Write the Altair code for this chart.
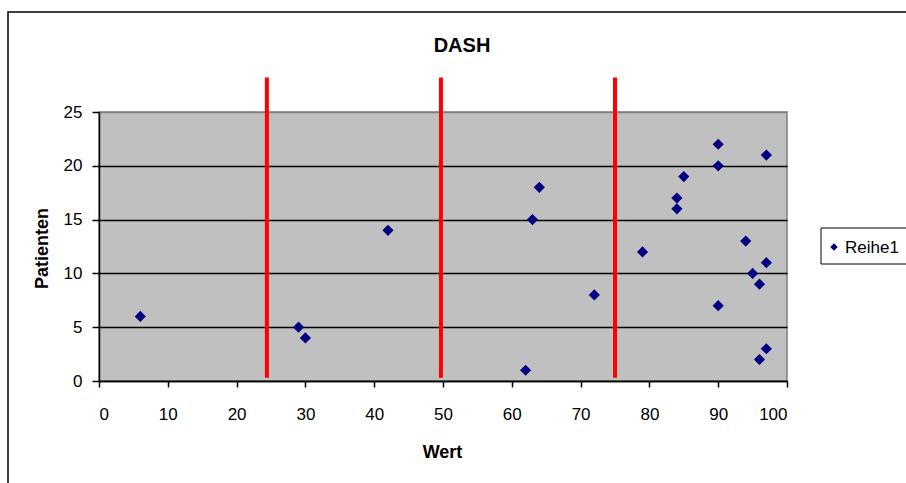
import altair as alt
import pandas as pd

# Data
wert = [6, 29, 30, 42, 62, 63, 64, 72, 79, 84, 84, 85, 90, 90, 90, 94, 95, 96, 96, 97, 97, 97]
patienten = [6, 5, 4, 14, 1, 15, 18, 8, 12, 17, 16, 19, 22, 20, 7, 13, 10, 9, 2, 21, 11, 3]

cut_x = [24.4, 49.7, 75.0]
cut_y_start = [0.3, 0.3, 0.3]
cut_y_end = [28.2, 28.2, 28.2]

x_ticks = [0, 10, 20, 30, 40, 50, 60, 70, 80, 90, 100]
y_ticks = [0, 5, 10, 15, 20, 25]

title_text = "DASH"
x_title = "Wert"
y_title = "Patienten"
series_name = "Reihe1"

FONT = "Liberation Sans"
W, H = 688, 269
LEFT, TOP = 99, 112

pts = pd.DataFrame({"Wert": wert, "Patienten": patienten})
cuts = pd.DataFrame({"Wert": cut_x, "Patienten": cut_y_start, "P2": cut_y_end})

x_axis = alt.Axis(
    values=x_ticks, title=x_title, grid=False,
    domainColor="black", domainWidth=1.5, tickColor="black", tickWidth=1.5,
    tickSize=6, labelPadding=19, labelFont=FONT, labelFontSize=17, labelColor="black",
    titleFont=FONT, titleFontSize=18, titleFontWeight="bold", titleColor="black",
    titleX=343, titleY=71, titleBaseline="middle", titleAlign="center",
)
y_axis = alt.Axis(
    values=y_ticks, title=y_title, grid=True,
    gridColor={"condition": {"test": "datum.value >= 25", "value": "#808080"}, "value": "black"},
    gridWidth=1.3,
    domainColor="black", domainWidth=1.5, tickColor="black", tickWidth=1.5,
    tickSize=7, labelPadding=10, labelFont=FONT, labelFontSize=17, labelColor="black",
    titleFont=FONT, titleFontSize=18, titleFontWeight="bold", titleColor="black",
    titleX=-57, titleY=136, titleBaseline="middle", titleAlign="center", titleAngle=-90,
)

x_scale = alt.Scale(domain=[0, 100], nice=False, zero=False)
y_scale = alt.Scale(domain=[0, 25], nice=False, zero=False)

points = alt.Chart(pts).mark_point(
    shape="diamond", filled=True, size=125, color="#000080", opacity=1
).encode(
    x=alt.X("Wert:Q", scale=x_scale, axis=x_axis),
    y=alt.Y("Patienten:Q", scale=y_scale, axis=y_axis),
)

redlines = alt.Chart(cuts).mark_rule(color="#ff0000", strokeWidth=4, clip=False).encode(
    x=alt.X("Wert:Q", scale=x_scale, axis=x_axis),
    y=alt.Y("Patienten:Q", scale=y_scale, axis=y_axis),
    y2="P2:Q",
)

one = alt.Data(values=[{"a": 1}])

border = alt.Chart(one).mark_rect(
    filled=False, stroke="black", strokeWidth=1.5, fillOpacity=0
).encode(
    x=alt.value(8 - LEFT), x2=alt.value(906 + 40 - LEFT),
    y=alt.value(12 - TOP), y2=alt.value(483 + 40 - TOP),
)

legend_box = alt.Chart(one).mark_rect(
    fill="white", stroke="black", strokeWidth=1
).encode(
    x=alt.value(821 - LEFT), x2=alt.value(1000 - LEFT),
    y=alt.value(228 - TOP), y2=alt.value(264 - TOP),
)

legend_sym = alt.Chart(one).mark_point(
    shape="diamond", filled=True, size=55, color="#000080", opacity=1
).encode(x=alt.value(834 - LEFT), y=alt.value(247 - TOP))

legend_txt = alt.Chart(one).mark_text(
    text=series_name, font=FONT, fontSize=17, align="left", baseline="middle", color="black"
).encode(x=alt.value(845 - LEFT), y=alt.value(248 - TOP))

title = alt.Chart(one).mark_text(
    text=title_text, font=FONT, fontSize=20, fontWeight="bold",
    align="center", baseline="middle", color="black"
).encode(x=alt.value(462 - LEFT), y=alt.value(46 - TOP))

chart = alt.layer(
    points, redlines, border, legend_box, legend_sym, legend_txt, title
).properties(
    width=W, height=H,
    autosize=alt.AutoSizeParams(type="none"),
    padding={"left": LEFT, "top": TOP, "right": 906 - LEFT - W, "bottom": 483 - TOP - H},
    background="white",
).configure_view(
    fill="#c0c0c0", stroke="#808080", strokeWidth=1.5
)

chart.save("out.html", embed_options={"renderer": "svg", "actions": False})
